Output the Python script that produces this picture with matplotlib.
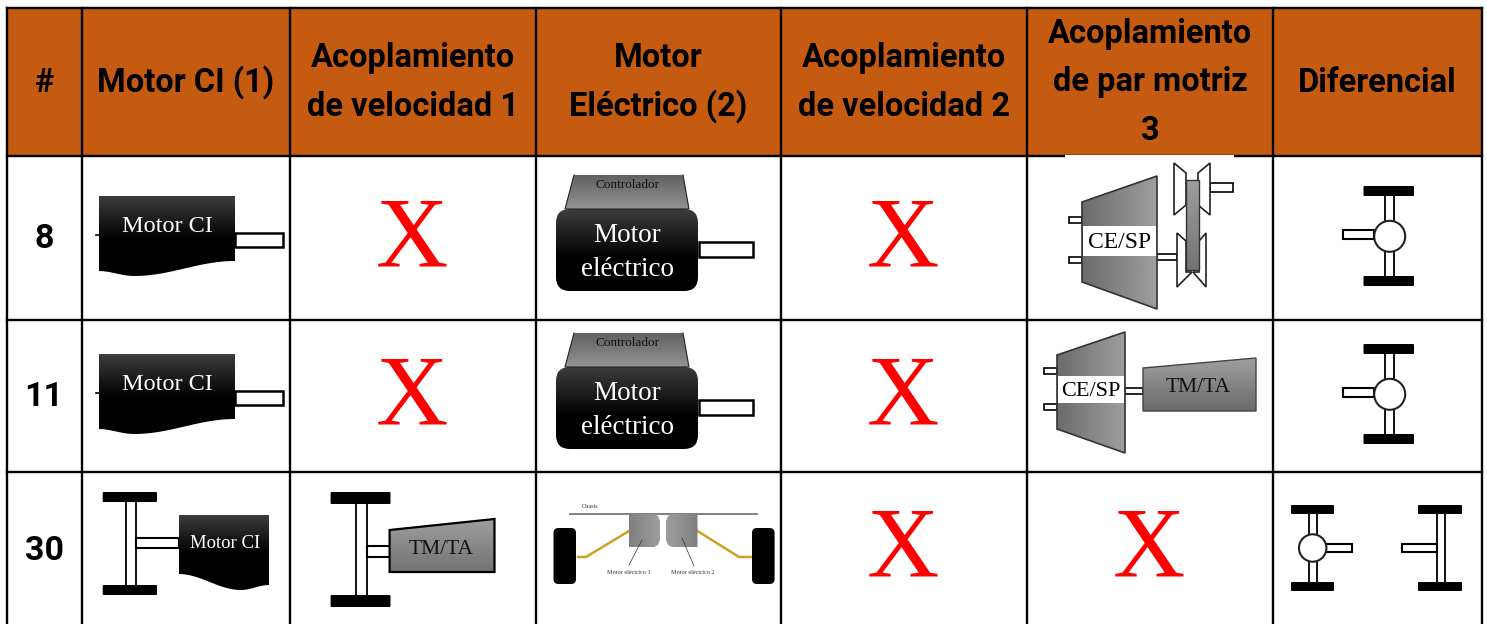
import numpy as np
import matplotlib
matplotlib.use('Agg')
import matplotlib.pyplot as plt
import matplotlib.patches as patches

W = 1487
H = 624

# table content
col_edges = [7, 82, 290, 536, 781, 1027, 1273, 1482]
row_edges = [8, 156, 320, 472, 640]
headers = ['#', 'Motor CI (1)', 'Acoplamiento\nde velocidad 1', 'Motor\nEléctrico (2)',
           'Acoplamiento\nde velocidad 2', 'Acoplamiento\nde par motriz\n3', 'Diferencial']
row_ids = ['8', '11', '30']
# cells holding a red X: (row, column)
x_cells = [(0, 2), (0, 4), (1, 2), (1, 4), (2, 4), (2, 5)]
x_baselines = [265, 423, 576]
id_baselines = [248, 406, 560]

HEADER = '#C55A11'
SERIF = 'Liberation Serif'
SANS = 'Roboto'

fig = plt.figure(figsize=(W / 100, H / 100), dpi=100)
ax = fig.add_axes([0, 0, 1, 1])
ax.set_xlim(0, W)
ax.set_ylim(H, 0)
ax.axis('off')


def grad_poly(pts, c_top, c_bot, edge=None, lw=1.0, z=3, horizontal=False, stop=1.0):
    # polygon filled with a linear gray gradient, flat after stop
    pts = np.array(pts, dtype=float)
    x0, y0 = pts.min(axis=0)
    x1, y1 = pts.max(axis=0)
    g = np.interp(np.linspace(0, 1, 128), [0, stop, 1], [c_top, c_bot, c_bot])
    g = g.reshape(1, -1) if horizontal else g.reshape(-1, 1)
    im = ax.imshow(g, cmap='gray', vmin=0, vmax=1, extent=[x0, x1, y1, y0],
                   aspect='auto', zorder=z, interpolation='bilinear')
    poly = patches.Polygon(pts, closed=True, facecolor='none', edgecolor=edge or 'none',
                           linewidth=lw, zorder=z + 0.1)
    ax.add_patch(poly)
    im.set_clip_path(poly)
    return poly


def rect(x0, y0, x1, y1, fc='white', ec='black', lw=1.5, z=2.5):
    ax.add_patch(patches.Rectangle((x0, y0), x1 - x0, y1 - y0, facecolor=fc, edgecolor=ec,
                                   linewidth=lw, zorder=z))


def label(x, y, s, size, color='black', family=SERIF, z=6):
    # serif text sits a little high with va=center
    ax.text(x, y + 2, s, fontsize=size, color=color, family=family, ha='center', va='center', zorder=z)


def wave_points(x0, x1, y_top, y_right, y_left, y_low, x_low):
    t = np.linspace(0, 1, 30)
    # bottom edge from right to left through a low point
    xs = x1 + (x0 - x1) * t
    ys = y_right + (y_low - y_right) * np.sin(np.clip((x1 - xs) / (x1 - x_low), 0, 1) * np.pi / 2) ** 2
    left = xs < x_low
    ys[left] = y_left + (y_low - y_left) * np.sin((xs[left] - x0) / (x_low - x0) * np.pi / 2) ** 2
    return [(x0, y_top), (x1, y_top)] + list(zip(xs, ys))


def motor_ci(dy):
    rect(235, 233 + dy, 283, 247 + dy, lw=1.8)
    ax.plot([96, 100], [235 + dy, 235 + dy], color='black', lw=1.2, zorder=2)
    pts = wave_points(98.5, 235, 196 + dy, 261 + dy, 271 + dy, 276 + dy, 134)
    grad_poly(pts, 0.24, 0.0, z=3, stop=0.55)
    label(167, 224 + dy, 'Motor CI', 17.5, 'white')


def motor_elec(dy):
    rect(699, 242 + dy, 753, 257 + dy, lw=1.8)
    # controller on top
    grad_poly([(574, 175 + dy), (683, 175 + dy), (689, 209 + dy), (565, 209 + dy)], 0.38, 0.58, z=3)
    ax.plot([574, 565, 689, 683], [175 + dy, 209 + dy, 209 + dy, 175 + dy], color='#222222', lw=0.8, zorder=3.2)
    label(627, 183 + dy, 'Controlador', 9.5, '#111111')
    box = patches.FancyBboxPatch((566, 219 + dy), 122, 62, boxstyle='round,pad=10,rounding_size=14',
                                 facecolor='none', edgecolor='none', zorder=3)
    ax.add_patch(box)
    g = np.interp(np.linspace(0, 1, 128), [0, 0.6, 1], [0.24, 0.0, 0.0]).reshape(-1, 1)
    im = ax.imshow(g, cmap='gray', vmin=0, vmax=1, extent=[555, 700, 292 + dy, 209 + dy],
                   aspect='auto', zorder=3)
    im.set_clip_path(box)
    label(627, 234 + dy, 'Motor', 19.5, 'white')
    label(627, 268 + dy, 'eléctrico', 19.5, 'white')


def ce_sp(x0, x1, yl0, yl1, yr0, yr1, band0, band1, sh0, sh1, size):
    rect(x0 - 13, sh0 - 3, x0, sh0 + 3, lw=1.2)
    rect(x0 - 13, sh1 - 3, x0, sh1 + 3, lw=1.2)
    grad_poly([(x0, yl0), (x1, yr0), (x1, yr1), (x0, yl1)], 0.42, 0.62, edge='#333333', lw=1.2,
              horizontal=True)
    rect(x0 + 1, band0, x1 - 1, band1, ec='none', lw=0, z=4)
    label((x0 + x1) / 2, (band0 + band1) / 2, 'CE/SP', size)


def pulleys():
    # transmission drawn at the top right of the row 8 cell
    rect(1157, 254, 1177, 260, lw=1.2)
    rect(1210, 183, 1233, 192, lw=1.2)
    for pts in ([(1174, 163), (1186, 173), (1186, 205), (1174, 215)],
                [(1210, 163), (1198, 173), (1198, 205), (1210, 215)],
                [(1177, 233), (1186, 241), (1186, 272), (1192, 272), (1177, 287)],
                [(1206, 233), (1199, 241), (1199, 272), (1193, 272), (1206, 287)]):
        ax.add_patch(patches.Polygon(pts, closed=True, facecolor='white', edgecolor='#222222',
                                     linewidth=1.2, zorder=3))
    grad_poly([(1186, 180), (1199, 180), (1199, 270), (1186, 270)], 0.62, 0.45, edge='#333333',
              lw=1.0, z=4)


def wheels(w0, w1, t0, t1, b0, b1):
    for y0, y1 in ((t0, t1), (b0, b1)):
        ax.add_patch(patches.FancyBboxPatch((w0 + 1, y0 + 1), w1 - w0 - 2, y1 - y0 - 2,
                                            boxstyle='round,pad=1', fc='black', ec='none', zorder=3))


def axle(w0, w1, ax0, ax1, t0, t1, b0, b1, lw=1.4):
    wheels(w0, w1, t0, t1, b0, b1)
    for xa in (ax0, ax1):
        ax.plot([xa, xa], [t1, b0], color='#111111', lw=lw, zorder=2)


def differential(cx, cy, r, ax0, ax1, t0, t1, b0, b1, w0, w1, sh0, sh1, sh_y0, sh_y1):
    axle(w0, w1, ax0, ax1, t0, t1, b0, b1)
    rect(sh0, sh_y0, sh1, sh_y1, lw=1.5)
    if cx is not None:
        ax.add_patch(patches.Circle((cx, cy), r, fc='white', ec='#222222', lw=1.5, zorder=3))


# header band and grid
ax.add_patch(patches.Rectangle((col_edges[0], row_edges[0]), col_edges[-1] - col_edges[0],
                               row_edges[1] - row_edges[0], facecolor=HEADER, edgecolor='none', zorder=0))
for xv in col_edges:
    ax.plot([xv, xv], [row_edges[0], H], color='black', lw=1.7, zorder=1, solid_capstyle='projecting')
for yv in row_edges[:-1]:
    ax.plot([col_edges[0], col_edges[-1]], [yv, yv], color='black', lw=1.7, zorder=1,
            solid_capstyle='projecting')

# header text, one line at a time
for i, head in enumerate(headers):
    xc = (col_edges[i] + col_edges[i + 1]) / 2
    lines = head.split('\n')
    for k, line in enumerate(lines):
        ax.text(xc, 91.5 + (k - (len(lines) - 1) / 2) * 48.5, line, fontsize=23.5, fontweight='bold',
                family=SANS, color='black', ha='center', va='baseline', zorder=5)

# row numbers
for rid, yb in zip(row_ids, id_baselines):
    ax.text(44, yb, rid, fontsize=24.5, fontweight='bold', family=SANS, color='black',
            ha='center', va='baseline', zorder=5)

# red crosses
for r, c in x_cells:
    xc = (col_edges[c] + col_edges[c + 1]) / 2 - 1.5
    ax.text(xc, x_baselines[r], 'X', fontsize=72, family=SERIF, color='#FF0000', ha='center',
            va='baseline', zorder=5)

# rows 8 and 11: motors
for dy in (0, 158):
    motor_ci(dy)
    motor_elec(dy)
    differential(1389.7, 236.3 + dy, 15.5, 1385, 1394.3, 186 + dy, 196 + dy, 276 + dy, 286 + dy,
                 1363.5, 1414, 1342.7, 1374, 229.5 + dy, 239 + dy)

# row 8 coupling
ax.add_patch(patches.Rectangle((1065, 155), 169, 2.5, fc='white', ec='none', zorder=2))
ce_sp(1082, 1157, 202, 282, 176, 309, 226, 256, 220, 260, 17)
pulleys()

# row 11 coupling
ce_sp(1057, 1125, 355, 429, 332, 453, 376, 403, 370.5, 406.5, 16)
rect(1125, 388, 1143, 394, lw=1.2)
grad_poly([(1143, 368), (1256, 358), (1256, 411), (1143, 411)], 0.62, 0.42, edge='#444444', lw=1.0)
label(1198, 386, 'TM/TA', 15.5, '#111111')

# row 30: engine with axle
axle(102.7, 157, 126, 136, 492, 502, 585, 595)
rect(136, 538, 179, 548, lw=1.5)
grad_poly(wave_points(178.5, 269, 515, 585, 574, 590, 241), 0.24, 0.0, stop=0.5)
label(225, 541, 'Motor CI', 13.5, 'white')

# row 30: gearbox with axle
axle(330.6, 390.5, 355.6, 367, 492, 504, 595, 607)
rect(367, 546, 390, 557, lw=1.5)
grad_poly([(389.6, 530), (494.5, 519), (494.5, 572), (389.6, 572)], 0.62, 0.45, edge='black', lw=1.6)
label(441, 547, 'TM/TA', 15.5, '#111111')

# row 30: two electric motors under the chassis
ax.plot([570, 756.5], [514, 514], color='#777777', lw=1.3, zorder=3)
label(590, 505, 'Chasis', 4.5, '#333333')
for x0, x1 in ((553.5, 576), (752, 774.6)):
    ax.add_patch(patches.FancyBboxPatch((x0 + 4, 532), x1 - x0 - 8, 48,
                                        boxstyle='round,pad=4,rounding_size=5', fc='black', ec='none', zorder=3))
ax.plot([578, 586, 629], [557, 557, 531], color='#C9A227', lw=1.8, zorder=2)
ax.plot([697.5, 739, 751], [531, 557, 557], color='#C9A227', lw=1.8, zorder=2)
grad_poly([(629, 514), (654, 514), (658, 516), (660, 521), (660, 540), (658, 545), (654, 547), (629, 547)],
          0.5, 0.62, horizontal=True)
grad_poly([(672, 514), (697.5, 514), (697.5, 547), (672, 547), (668, 545), (666, 540), (666, 521), (668, 516)],
          0.62, 0.5, horizontal=True)
ax.plot([629, 642], [565, 540], color='#333333', lw=0.5, zorder=5)
ax.plot([694, 682], [566, 538], color='#333333', lw=0.5, zorder=5)
label(629, 571, 'Motor eléctrico 1', 4.5, '#333333')
label(693, 571, 'Motor eléctrico 2', 4.5, '#333333')

# row 30: two axles
differential(1312.7, 548, 13.7, 1309, 1317, 505, 514, 582, 591, 1291, 1334, 1326, 1352, 544, 552)
differential(None, None, 0, 1437, 1445, 505, 514, 582, 591, 1418, 1462, 1402, 1437, 544, 552)

fig.savefig('out.png', dpi=100, facecolor='white')
